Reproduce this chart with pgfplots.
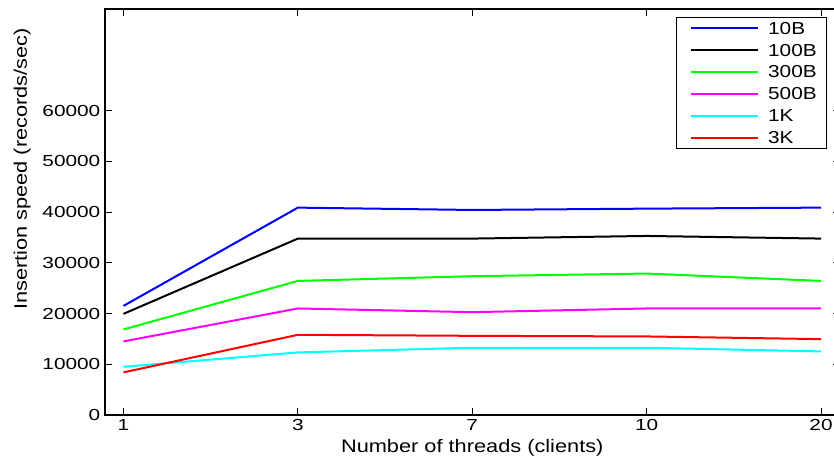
\documentclass[border=0pt]{standalone}
\usepackage{fontspec}
\setmainfont{Liberation Sans}[FakeStretch=1.2]
\newfontfamily\tickfont{Liberation Sans}[FakeStretch=1.3]
\usepackage{pgfplots}
\pgfplotsset{compat=1.18}

\definecolor{mblue}{RGB}{0,0,255}
\definecolor{mgreen}{RGB}{0,255,0}
\definecolor{mmag}{RGB}{255,0,255}
\definecolor{mcyan}{RGB}{0,255,255}
\definecolor{mred}{RGB}{255,0,0}

\begin{document}
\begin{tikzpicture}
\begin{axis}[
  width=550.9pt, height=304.5pt, scale only axis,
  xmin=-0.106, xmax=4.106,
  ymin=0, ymax=80000,
  xtick={0,1,2,3,4},
  xticklabels={1,3,7,10,20},
  ytick={0,10000,20000,30000,40000,50000,60000},
  scaled y ticks=false,
  /pgf/number format/.cd, 1000 sep={}, assume math mode=true,
  /pgfplots/.cd,
  tick align=inside,
  major tick length=5pt,
  tick style={black, line width=0.6pt},
  axis line style={line width=0.8pt},
  tick label style={font=\tickfont\fontsize{12}{14}\selectfont},
  label style={font=\fontsize{13.6}{16}\selectfont},
  xlabel={Number of threads (clients)},
  ylabel={Insertion speed (records/sec)},
  xlabel style={at={(axis description cs:0.5,-0.0924)}, anchor=base},
  ylabel style={at={(axis description cs:-0.1062,0.606)}, anchor=base},
  every axis plot/.append style={line width=1.5pt},
  legend cell align=left,
  legend style={
    at={(1,1)}, anchor=north east, xshift=-9.15pt, yshift=-5.8pt,
    draw=black, line width=0.75pt, inner sep=0pt,
    font=\fontsize{13}{15}\selectfont,
    column sep=6.75pt, row sep=0pt,
    nodes={inner sep=0pt, text height=12.7pt, text depth=3.7pt,
           text width=44pt, align=left},
  },
  legend image code/.code={
    \path[draw=none] (0pt,0pt) -- (0pt,5.15pt);
    \draw[#1] (10.5pt,0pt) -- (61pt,0pt);
  },
]
\addplot[mblue] coordinates {(0,21500) (1,40860) (2,40400) (3,40660) (4,40860)};
\addlegendentry{10B}
\addplot[black] coordinates {(0,19930) (1,34760) (2,34760) (3,35280) (4,34760)};
\addlegendentry{100B}
\addplot[mgreen] coordinates {(0,16860) (1,26420) (2,27350) (3,27870) (4,26420)};
\addlegendentry{300B}
\addplot[mmag] coordinates {(0,14500) (1,20990) (2,20260) (3,20990) (4,20990)};
\addlegendentry{500B}
\addplot[mcyan] coordinates {(0,9500) (1,12330) (2,13250) (3,13250) (4,12530)};
\addlegendentry{1K}
\addplot[mred] coordinates {(0,8400) (1,15800) (2,15600) (3,15480) (4,14950)};
\addlegendentry{3K}
\end{axis}
\pgfresetboundingbox
\path[use as bounding box]
  ([xshift=-78.75pt, yshift=-33pt]current axis.south west) rectangle
  ([xshift=546.75pt, yshift=311.25pt]current axis.south west);
\end{tikzpicture}
\end{document}
